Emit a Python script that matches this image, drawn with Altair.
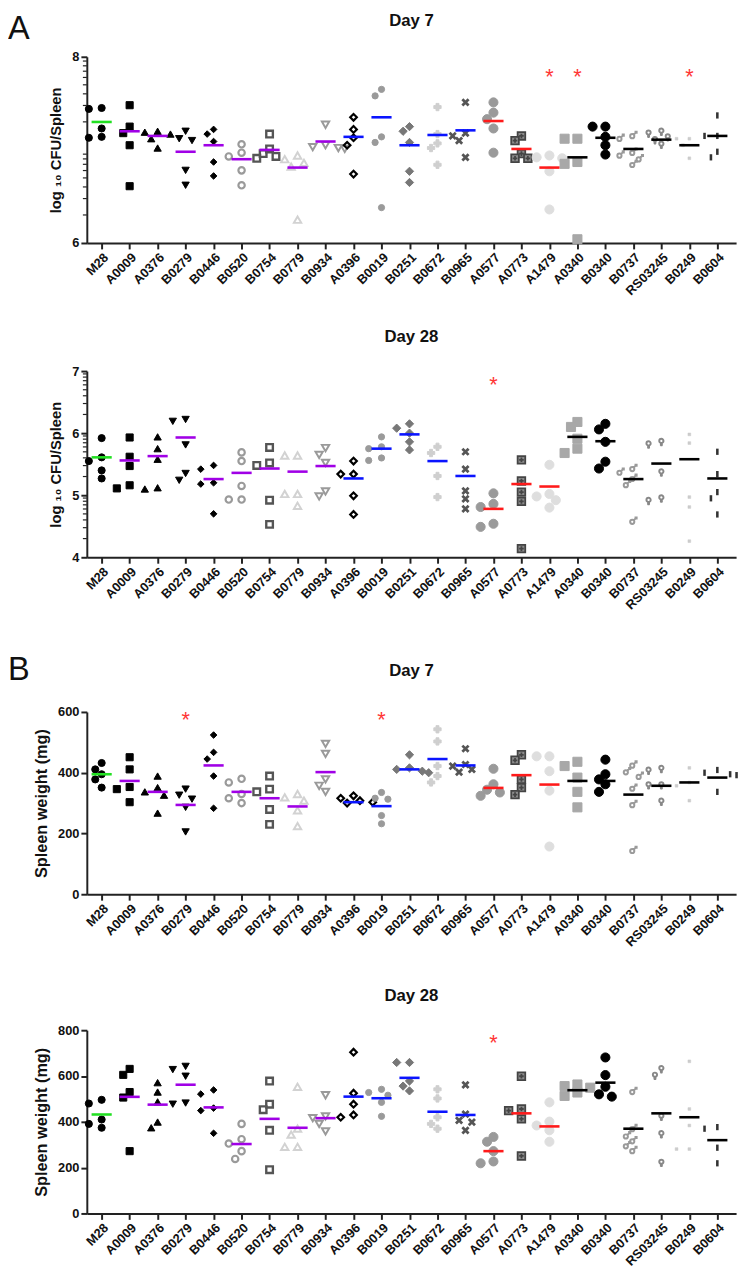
import json
import altair as alt
import pandas as pd

categories = ["M28", "A0009", "A0376", "B0279", "B0446", "B0520", "B0754", "B0779",
              "B0934", "A0396", "B0019", "B0251", "B0672", "B0965", "A0577", "A0773",
              "A1479", "A0340", "B0340", "B0737", "RS03245", "B0249", "B0604"]

# ---- Panel A, Day 7: log10 CFU/Spleen ----
cfu_day7 = [
    [7.45, 7.44, 7.23, 7.14, 7.13], [7.48, 7.25, 7.18, 7.05, 6.61],
    [7.20, 7.19, 7.17, 7.12, 7.02], [7.20, 7.12, 7.10, 6.78, 6.62],
    [7.22, 7.17, 7.09, 6.87, 6.72], [7.06, 6.97, 6.93, 6.78, 6.62],
    [7.17, 7.01, 6.96, 6.93, 6.91], [6.94, 6.90, 6.86, 6.82, 6.25],
    [7.27, 7.05, 7.03, 7.02, 7.01], [7.35, 7.22, 7.13, 7.05, 6.74],
    [7.65, 7.58, 7.14, 7.08, 6.38], [7.25, 7.20, 7.08, 6.77, 6.65],
    [7.46, 7.17, 7.07, 7.02, 6.84], [7.51, 7.18, 7.15, 7.10, 6.92],
    [7.51, 7.40, 7.33, 7.23, 6.97], [7.15, 7.10, 6.96, 6.91, 6.91],
    [6.94, 6.92, 6.91, 6.77, 6.36], [7.12, 7.12, 6.87, 6.85, 6.04],
    [7.25, 7.25, 7.14, 7.05, 6.95], [7.16, 7.13, 6.98, 6.95, 6.91, 6.85],
    [7.19, 7.17, 7.13, 7.10, 7.05], [7.12, 7.12, 7.05, 6.91],
    [7.37, 7.15, 7.15, 6.98, 6.92],
]
cfu_day7_mean = [7.30, 7.20, 7.15, 6.98, 7.05, 6.90, 7.00, 6.81, 7.09, 7.14, 7.35, 7.05,
                 7.16, 7.21, 7.31, 7.01, 6.81, 6.92, 7.13, 7.01, 7.11, 7.05, 7.15]
cfu_day7_stars = ["A1479", "A0340", "B0249"]
cfu_day7_star_level = 7.85

# ---- Panel A, Day 28: log10 CFU/Spleen ----
cfu_day28 = [
    [5.92, 5.61, 5.55, 5.40, 5.27], [5.93, 5.62, 5.47, 5.16, 5.11],
    [5.94, 5.75, 5.58, 5.12, 5.10], [6.22, 6.19, 5.81, 5.35, 5.24],
    [5.48, 5.42, 5.20, 5.18, 4.70], [5.69, 5.55, 5.15, 4.93, 4.93],
    [5.77, 5.52, 5.48, 4.92, 4.53], [5.64, 5.64, 5.02, 5.02, 4.83],
    [5.76, 5.65, 5.52, 5.06, 4.98], [5.55, 5.34, 5.34, 4.99, 4.69],
    [5.94, 5.78, 5.75, 5.60, 5.56], [6.15, 6.08, 6.00, 5.86, 5.73],
    [5.78, 5.68, 5.31, 4.97], [5.70, 5.42, 5.07, 4.94, 4.78],
    [5.03, 4.86, 4.81, 4.54, 4.49], [5.57, 5.23, 5.05, 4.90, 4.14],
    [5.49, 5.02, 4.98, 4.92, 4.80], [6.18, 6.10, 5.91, 5.75, 5.68],
    [6.15, 6.06, 5.86, 5.54, 5.43], [5.44, 5.38, 5.28, 5.18, 4.59],
    [5.85, 5.81, 5.36, 4.94, 4.90], [5.98, 5.84, 4.97, 4.81, 4.26],
    [5.70, 5.34, 5.05, 4.95, 4.69],
]
cfu_day28_mean = [5.61, 5.56, 5.63, 5.93, 5.26, 5.36, 5.43, 5.38, 5.47, 5.27, 5.75, 5.98,
                  5.55, 5.31, 4.78, 5.18, 5.14, 5.94, 5.87, 5.26, 5.51, 5.58, 5.27]
cfu_day28_stars = ["A0577"]
cfu_day28_star_level = 6.87

# ---- Panel B, Day 7: spleen weight (mg) ----
wt_day7 = [
    [432, 411, 395, 378, 351], [451, 411, 353, 346, 303],
    [389, 351, 337, 326, 267], [346, 326, 313, 286, 205],
    [524, 467, 445, 389, 283], [380, 368, 330, 316, 300],
    [389, 346, 337, 279, 230], [330, 319, 308, 276, 224],
    [495, 462, 378, 357, 337], [324, 316, 308, 303, 300],
    [335, 316, 313, 259, 232], [459, 416, 411, 405, 400],
    [543, 503, 422, 389, 368], [479, 427, 422, 411, 402],
    [413, 362, 344, 335, 324], [459, 441, 378, 351, 328],
    [454, 454, 405, 341, 157], [436, 422, 384, 337, 286],
    [443, 395, 378, 362, 337], [427, 405, 390, 351, 297, 146],
    [411, 405, 357, 357, 303], [416, 368, 357, 308],
    [409, 400, 395, 392, 337],
]
wt_day7_mean = [395, 373, 337, 294, 424, 337, 316, 289, 402, 303, 290, 411, 445, 424,
                350, 392, 361, 373, 373, 328, 357, 368, 384]
wt_day7_stars = ["B0279", "B0019"]
wt_day7_star_level = 592

# ---- Panel B, Day 28: spleen weight (mg) ----
wt_day28 = [
    [496, 480, 410, 391, 374], [631, 605, 530, 506, 272],
    [571, 530, 487, 399, 374], [642, 628, 599, 482, 477],
    [539, 521, 460, 449, 350], [391, 324, 305, 272, 238],
    [578, 477, 453, 363, 191], [553, 370, 344, 291, 291],
    [516, 424, 416, 391, 358], [704, 525, 477, 430, 420],
    [542, 528, 516, 485, 424], [659, 659, 578, 556, 535],
    [542, 502, 420, 391, 370], [561, 434, 406, 399, 363],
    [334, 313, 272, 227, 219], [599, 456, 449, 413, 251],
    [485, 401, 384, 363, 313], [563, 556, 549, 528, 513],
    [681, 604, 553, 520, 510], [535, 373, 341, 320, 298, 277],
    [628, 599, 420, 344, 219], [664, 456, 384, 281, 281],
    [377, 370, 287, 219],
]
wt_day28_mean = [432, 509, 475, 562, 463, 303, 413, 374, 416, 510, 503, 592, 444, 430,
                 272, 437, 380, 538, 571, 370, 437, 420, 320]
wt_day28_stars = ["A0577"]
wt_day28_star_level = 768

# ---- marker styles (shape, fill, stroke, size, strokeWidth) ----
X_PATH = "M-1,-1L1,1M-1,1L1,-1"
PLUS_BOX = "M-1,-1L1,-1L1,1L-1,1Z M0,-0.6L0,0.6 M-0.6,0L0.6,0"
MALE = ("M-0.85,0.3A0.55,0.55 0 1 1 0.25,0.3A0.55,0.55 0 1 1 -0.85,0.3Z "
        "M0.1,-0.1L0.8,-0.8 M0.3,-0.85L0.85,-0.85L0.85,-0.3")
FEMALE = ("M-0.55,-0.4A0.55,0.55 0 1 1 0.55,-0.4A0.55,0.55 0 1 1 -0.55,-0.4Z "
          "M0,0.15L0,1 M-0.38,0.6L0.38,0.6")
VDASH = "M0,-1L0,1"
NONE = "transparent"
styles = {
    "M28": ("circle", "#000", "#000", 52, 1),
    "A0009": ("square", "#000", "#000", 52, 1),
    "A0376": ("triangle-up", "#000", "#000", 55, 1),
    "B0279": ("triangle-down", "#000", "#000", 55, 1),
    "B0446": ("diamond", "#000", "#000", 45, 1),
    "B0520": ("circle", NONE, "#9a9a9a", 42, 2.2),
    "B0754": ("square", NONE, "#555", 45, 2.4),
    "B0779": ("triangle-up", NONE, "#d2d2d2", 55, 2),
    "B0934": ("triangle-down", NONE, "#9a9a9a", 55, 2),
    "A0396": ("diamond", NONE, "#000", 45, 2.2),
    "B0019": ("circle", "#9a9a9a", "#9a9a9a", 40, 1),
    "B0251": ("diamond", "#777", "#777", 70, 1),
    "B0672": ("cross", "#cfcfcf", "#cfcfcf", 55, 1),
    "B0965": (X_PATH, NONE, "#555", 40, 2.8),
    "A0577": ("circle", "#9a9a9a", "#9a9a9a", 85, 1),
    "A0773": (PLUS_BOX, "#8c8c8c", "#444", 60, 1.8),
    "A1479": ("circle", "#dedede", "#dedede", 85, 1),
    "A0340": ("square", "#a8a8a8", "#a8a8a8", 85, 1),
    "B0340": ("circle", "#000", "#000", 85, 1),
    "B0737": (MALE, NONE, "#9a9a9a", 60, 2),
    "RS03245": (FEMALE, NONE, "#888", 60, 2),
    "B0249": ("square", "#cccccc", "#cccccc", 8, 0.5),
    "B0604": (VDASH, NONE, "#333", 40, 2.6),
}
group_colors = ["#22e022"] + ["#a000e6"] * 8 + ["#0a14ff"] * 5 + ["#ff1a1a"] * 3 + ["#000000"] * 6

FONT = "Liberation Sans"
PLOT_W = 659
STEP_PX = PLOT_W / 23.2
X_DOMAIN = [-0.53, 22.67]


def jitter(vals, ppu, diam=8.0, step=6.5):
    order = sorted(range(len(vals)), key=lambda i: -vals[i])
    placed, res = [], [0.0] * len(vals)
    for i in order:
        yp = vals[i] * ppu
        dx = 0.0
        for c in [0, -1, 1, -2, 2, -3, 3]:
            dx = c * step
            if all(((dx - px) ** 2 + (yp - py) ** 2) ** 0.5 >= diam for px, py in placed):
                break
        placed.append((dx, yp))
        res[i] = dx
    return res


def panel(vals, means, stars, star_level, ydom, yvals, ytitle, title, h,
          minor_decades, title_y, ytitle_size, letter=None, letter_y=0):
    ppu = h / (ydom[1] - ydom[0])
    rows = []
    for i, cat in enumerate(categories):
        offs = jitter(vals[i], ppu)
        shp, fill, stroke, size, sw = styles[cat]
        for v, o in zip(vals[i], offs):
            rows.append(dict(cat=cat, pos=i + o / STEP_PX, v=v, shape=shp, fill=fill,
                             stroke=stroke, size=size, sw=sw))
    pts = pd.DataFrame(rows)
    mdf = pd.DataFrame(dict(cat=categories, idx=list(range(len(categories))),
                            m=means, col=group_colors))
    sdf = pd.DataFrame(dict(idx=[categories.index(c) for c in stars],
                            v=[star_level] * len(stars), t=["*"] * len(stars)))

    xscale = alt.Scale(domain=X_DOMAIN, nice=False, zero=False)
    yscale = alt.Scale(domain=ydom, nice=False, zero=False)
    xaxis = alt.Axis(values=list(range(len(categories))),
                     labelExpr=json.dumps(categories) + "[datum.value]",
                     labelAngle=-45, labelFontSize=13, labelFontWeight="bold",
                     labelFont=FONT, labelColor="#111", labelOverlap=False,
                     labelFlush=False, labelBound=False, labelPadding=2,
                     domainWidth=2, domainColor="#222", tickWidth=2, tickColor="#222",
                     tickSize=6, grid=False, title=None)
    yaxis = alt.Axis(values=yvals, format="d", title=ytitle, labelFontSize=13,
                     labelFontWeight="bold", labelFont=FONT, labelColor="#111",
                     titleFont=FONT, titleFontSize=ytitle_size, titleFontWeight="bold",
                     titleColor="#111", titlePadding=8, labelPadding=2, domainWidth=2,
                     domainColor="#222", tickWidth=2, tickColor="#222", tickSize=6,
                     grid=False)

    points = alt.Chart(pts).mark_point(opacity=1).encode(
        x=alt.X("pos:Q", scale=xscale, axis=xaxis),
        y=alt.Y("v:Q", scale=yscale, axis=yaxis),
        shape=alt.Shape("shape:N", scale=None),
        fill=alt.Fill("fill:N", scale=None),
        stroke=alt.Stroke("stroke:N", scale=None),
        size=alt.Size("size:Q", scale=None),
        strokeWidth=alt.StrokeWidth("sw:Q", scale=None),
    )
    mean_lines = alt.Chart(mdf).transform_calculate(
        lo="datum.idx - 0.36", hi="datum.idx + 0.36"
    ).mark_rule(strokeWidth=2.6).encode(
        x=alt.X("lo:Q", scale=xscale, axis=xaxis),
        x2="hi:Q",
        y=alt.Y("m:Q", scale=yscale, axis=yaxis),
        color=alt.Color("col:N", scale=None),
    )
    star_marks = alt.Chart(sdf).mark_text(
        fontSize=22, color="#ff3535", baseline="middle", dy=6, font=FONT
    ).encode(
        x=alt.X("idx:Q", scale=xscale, axis=xaxis),
        y=alt.Y("v:Q", scale=yscale, axis=yaxis),
        text="t:N",
    )
    title_mark = alt.Chart(pd.DataFrame(dict(t=[title]))).mark_text(
        fontSize=17, fontWeight="bold", font=FONT, color="#111", align="center",
        baseline="top"
    ).encode(x=alt.value(PLOT_W / 2), y=alt.value(title_y), text="t:N")
    layers = [points, mean_lines, star_marks, title_mark]
    if minor_decades:
        ks = [2, 3, 4, 5, 6, 7, 8, 9]
        minor = pd.DataFrame(dict(d=[d for d in minor_decades for _ in ks],
                                  k=[k for _ in minor_decades for k in ks]))
        minor_ticks = alt.Chart(minor).transform_calculate(
            mv="datum.d + log(datum.k) / LN10"
        ).mark_rule(strokeWidth=1.2, color="#222").encode(
            x=alt.value(-4), x2=alt.value(0),
            y=alt.Y("mv:Q", scale=yscale, axis=yaxis),
        )
        layers.append(minor_ticks)
    if letter:
        lt = alt.Chart(pd.DataFrame(dict(t=[letter]))).mark_text(
            fontSize=33, font=FONT, color="#111", align="left", baseline="top"
        ).encode(x=alt.value(-80), y=alt.value(letter_y), text="t:N")
        layers.append(lt)
    return alt.layer(*layers).properties(width=PLOT_W, height=h)


p1 = panel(cfu_day7, cfu_day7_mean, cfu_day7_stars, cfu_day7_star_level, [6, 8], [6, 7, 8],
           "log ₁₀ CFU/Spleen", "Day 7", 189, [6, 7], -44, 15, letter="A", letter_y=-44)
p2 = panel(cfu_day28, cfu_day28_mean, cfu_day28_stars, cfu_day28_star_level, [4, 7],
           [4, 5, 6, 7], "log ₁₀ CFU/Spleen", "Day 28", 189, [4, 5, 6], -43, 15)
p3 = panel(wt_day7, wt_day7_mean, wt_day7_stars, wt_day7_star_level, [0, 600],
           [0, 200, 400, 600], "Spleen weight (mg)", "Day 7", 185, [], -50, 16.5,
           letter="B", letter_y=-58)
p4 = panel(wt_day28, wt_day28_mean, wt_day28_stars, wt_day28_star_level, [0, 800],
           [0, 200, 400, 600, 800], "Spleen weight (mg)", "Day 28", 186, [], -43, 16.5)

top = alt.vconcat(p1, p2, spacing=30)
bottom = alt.vconcat(p3, p4, spacing=38)
chart = alt.vconcat(top, bottom, spacing=43).properties(
    padding={"left": 0, "top": -5, "right": 0, "bottom": 0}
).configure_view(stroke=None)

chart.save("out.html", embed_options={"renderer": "svg", "actions": False})
